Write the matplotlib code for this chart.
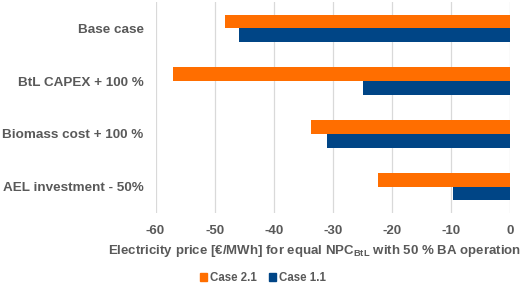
import numpy as np
import matplotlib.pyplot as plt
from matplotlib.patches import Patch

# ---------------------------------
# Data
# ---------------------------------
categories = ["Base case", "BtL CAPEX + 100 %", "Biomass cost + 100 %", "AEL investment - 50%"]
case_21 = [-48.2, -57.0, -33.6, -22.4]
case_11 = [-45.9, -24.8, -31.0, -9.6]
xticks = [-60, -50, -40, -30, -20, -10, 0]

ORANGE = "#FF6E00"
BLUE = "#004586"
GREY = "#595959"

plt.rcParams["font.family"] = ["Liberation Sans", "DejaVu Sans"]
plt.rcParams["font.weight"] = "bold"
plt.rcParams["mathtext.fontset"] = "custom"
plt.rcParams["mathtext.rm"] = "Liberation Sans:bold"
plt.rcParams["mathtext.bf"] = "Liberation Sans:bold"

fig = plt.figure(figsize=(5.26, 2.88), dpi=100)
ax = fig.add_axes([155.5 / 526, 1 - 213 / 288, (510 - 155.5) / 526, 211 / 288])

y = np.arange(len(categories))
h = 0.263
ax.barh(y - h / 2, case_21, height=h, color=ORANGE, label="Case 2.1", zorder=3)
ax.barh(y + h / 2, case_11, height=h, color=BLUE, label="Case 1.1", zorder=3)

ax.set_xlim(-60, 0)
ax.set_ylim(len(categories) - 0.5, -0.5)
ax.set_xticks(xticks)
ax.set_xticklabels([str(t) for t in xticks], fontsize=9.5, color=GREY, fontweight="bold")
ax.set_yticks(y)
ax.set_yticklabels(categories, fontsize=9.7, color=GREY, fontweight="bold")
ax.tick_params(axis="both", length=0)
ax.tick_params(axis="y", pad=8.6)
ax.tick_params(axis="x", pad=8.5)

ax.grid(axis="x", color="#D9D9D9", linewidth=0.9, zorder=0)
for s in ax.spines.values():
    s.set_visible(False)

# x label sits a bit left of the axes centre, as in the original
fig.text(315 / 526, 1 - 251 / 288,
         r"Electricity price [€/MWh] for equal NPC$_{\mathbf{BtL}}$ with 50 % BA operation",
         ha="center", va="center", fontsize=9.5, color=GREY, fontweight="bold")

handles = [Patch(color=ORANGE), Patch(color=BLUE)]
fig.legend(handles, ["Case 2.1", "Case 1.1"], loc="center", bbox_to_anchor=(263 / 526, 1 - 278 / 288),
           ncol=2, frameon=False, fontsize=8.3, handlelength=0.6, handleheight=0.6,
           handletextpad=0.3, columnspacing=1.0, labelcolor=GREY)

fig.savefig("out.png", dpi=100)
